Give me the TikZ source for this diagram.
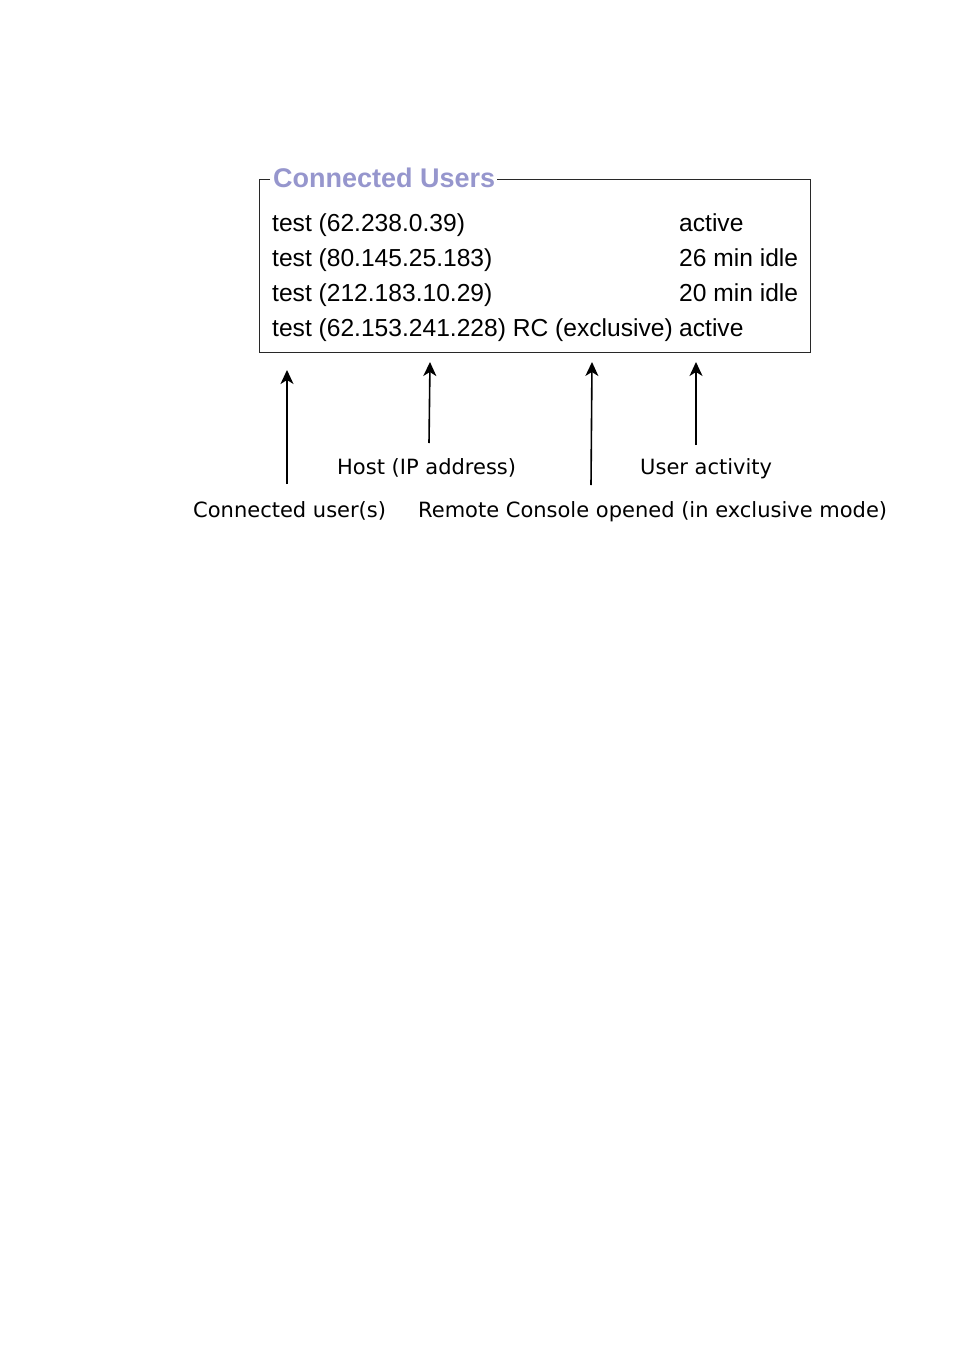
\documentclass[tikz,border=0pt]{standalone}
\usepackage{fontspec}
\setmainfont{Liberation Sans}
\newfontfamily\labelfont{DejaVu Sans}
\usetikzlibrary{arrows.meta}
\definecolor{titlecol}{RGB}{150,150,205}
\definecolor{boxcol}{RGB}{40,40,40}
\tikzset{
  rowtext/.style={anchor=base west, inner sep=0pt, font=\fontsize{24.6}{30}\selectfont},
  titletext/.style={anchor=base west, inner sep=0pt, text=titlecol, font=\fontsize{27}{32}\selectfont\bfseries},
  lbl/.style={anchor=base west, inner sep=0pt, font=\labelfont\fontsize{21}{25}\selectfont},
  pointer/.style={line width=1.6pt, -{Stealth[length=14pt,width=13pt,inset=4pt]}},
  frameline/.style={draw=boxcol, line width=1pt}
}
\begin{document}
\begin{tikzpicture}[x=1pt,y=-1pt]
\useasboundingbox (0,0) rectangle (954,1351);
% frame
\node[titletext] (title) at (273,188) {Connected Users};
\draw[frameline] ([xshift=-3pt]title.west |- 0,179.5) -- (259,179.5) -- (259,352) -- (810.5,352) -- (810.5,179.5) -- ([xshift=2pt]title.east |- 0,179.5);
% rows
\node[rowtext] (r1a) at (272,231) {test (62.238.0.39)};
\node[rowtext] (r2a) at (272,266) {test (80.145.25.183)};
\node[rowtext] (r3a) at (272,301) {test (212.183.10.29)};
\node[rowtext] (r4a) at (272,336) {test (62.153.241.228) RC (exclusive)};
\node[rowtext] (r1b) at (679,231) {active};
\node[rowtext] (r2b) at (679,266) {26 min idle};
\node[rowtext] (r3b) at (679,301) {20 min idle};
\node[rowtext] (r4b) at (679,336) {active};
% labels
\node[lbl] (host) at (337,474) {Host (IP address)};
\node[lbl] (act) at (640,474) {User activity};
\node[lbl] (user) at (193,517) {Connected user(s)};
\node[lbl] (rc) at (418,517) {Remote Console opened (in exclusive mode)};
% arrow end points
\coordinate (a1s) at (287,484);
\coordinate (a1e) at (287,370);
\coordinate (a2s) at (429,443);
\coordinate (a2e) at (430,362);
\coordinate (a3s) at (591,485);
\coordinate (a3e) at (592,362);
\coordinate (a4s) at (696,445);
\coordinate (a4e) at (696,362);
\draw[pointer] (a1s) -- (a1e);
\draw[pointer] (a2s) -- (a2e);
\draw[pointer] (a3s) -- (a3e);
\draw[pointer] (a4s) -- (a4e);
\end{tikzpicture}
\end{document}
